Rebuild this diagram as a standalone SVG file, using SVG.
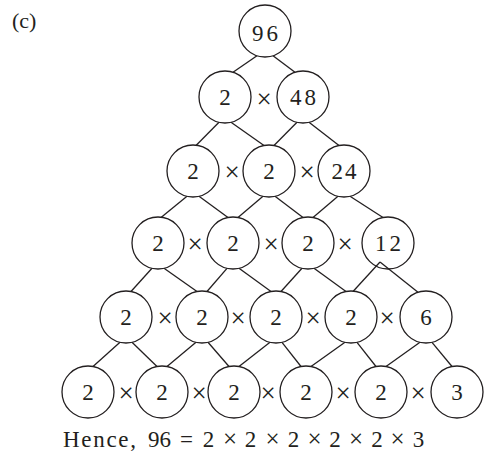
<svg xmlns="http://www.w3.org/2000/svg" width="486" height="460" viewBox="0 0 486 460">
<style>
.n circle{fill:#fff;stroke:#231f20;stroke-width:1.3}
.n text,.t{font-family:"Liberation Serif","Times New Roman",serif;fill:#231f20;text-anchor:middle}
.n text{font-size:23px}
.x{font-family:"Liberation Serif","Times New Roman",serif;fill:#231f20;text-anchor:middle;font-size:27px}
#edges line{stroke:#231f20;stroke-width:1.3}
</style>
<rect width="486" height="460" fill="#fff"/>
<text x="12" y="28" class="t" style="text-anchor:start;font-size:22px">(c)</text>
<g id="edges">
<line x1="257" y1="55.7" x2="233" y2="72.3"/><line x1="273" y1="55.7" x2="295" y2="72.3"/>
<line x1="219" y1="122.3" x2="196" y2="145.5"/><line x1="231" y1="122.3" x2="264" y2="145.5"/>
<line x1="297" y1="122.3" x2="274" y2="145.5"/><line x1="309" y1="122.3" x2="339" y2="145.5"/>
<line x1="187" y1="196.3" x2="161" y2="217.5"/><line x1="199" y1="196.3" x2="228" y2="217.5"/>
<line x1="263" y1="196.3" x2="238" y2="217.5"/><line x1="275" y1="196.3" x2="303" y2="217.5"/>
<line x1="338" y1="196.3" x2="313" y2="217.5"/><line x1="350" y1="196.3" x2="383" y2="217.5"/>
<line x1="152" y1="268.3" x2="131" y2="291.5"/><line x1="164" y1="268.3" x2="197" y2="291.5"/>
<line x1="227" y1="268.3" x2="207" y2="291.5"/><line x1="239" y1="268.3" x2="271" y2="291.5"/>
<line x1="302" y1="268.3" x2="281" y2="291.5"/><line x1="314" y1="268.3" x2="346" y2="291.5"/>
<line x1="380" y1="262" x2="353" y2="291.5"/><line x1="380" y1="262" x2="418" y2="292.3"/>
<line x1="120" y1="342.3" x2="93" y2="366.5"/><line x1="132" y1="342.3" x2="157" y2="366.5"/>
<line x1="196" y1="342.3" x2="167" y2="366.5"/><line x1="208" y1="342.3" x2="229" y2="366.5"/>
<line x1="270" y1="342.3" x2="239" y2="366.5"/><line x1="282" y1="342.3" x2="301" y2="366.5"/>
<line x1="345" y1="342.3" x2="311" y2="366.5"/><line x1="357" y1="342.3" x2="376" y2="366.5"/>
<line x1="420" y1="342.3" x2="386" y2="366.5"/><line x1="432" y1="342.3" x2="452" y2="366.5"/>
</g>
<g id="n96" class="n"><circle cx="265" cy="31" r="26"/><text x="265" y="41" textLength="26" lengthAdjust="spacing">96</text></g>
<g id="r2a" class="n"><circle cx="225" cy="97" r="26"/><text x="225" y="105">2</text></g>
<g id="r2b" class="n"><circle cx="303" cy="97" r="26"/><text x="303" y="105" textLength="26" lengthAdjust="spacing">48</text></g>
<g id="r3a" class="n"><circle cx="193" cy="171" r="26"/><text x="193" y="179">2</text></g>
<g id="r3b" class="n"><circle cx="269" cy="171" r="26"/><text x="269" y="179">2</text></g>
<g id="r3c" class="n"><circle cx="344" cy="171" r="26"/><text x="344" y="179" textLength="25" lengthAdjust="spacing">24</text></g>
<g id="r4a" class="n"><circle cx="158" cy="243" r="26"/><text x="158" y="251">2</text></g>
<g id="r4b" class="n"><circle cx="233" cy="243" r="26"/><text x="233" y="251">2</text></g>
<g id="r4c" class="n"><circle cx="308" cy="243" r="26"/><text x="308" y="251">2</text></g>
<g id="r4d" class="n"><circle cx="388" cy="243" r="26" style="fill:none"/><text x="388" y="251" textLength="26" lengthAdjust="spacing">12</text></g>
<g id="r5a" class="n"><circle cx="126" cy="317" r="26"/><text x="126" y="325">2</text></g>
<g id="r5b" class="n"><circle cx="202" cy="317" r="26"/><text x="202" y="325">2</text></g>
<g id="r5c" class="n"><circle cx="276" cy="317" r="26"/><text x="276" y="325">2</text></g>
<g id="r5d" class="n"><circle cx="351" cy="317" r="26"/><text x="351" y="325">2</text></g>
<g id="r5e" class="n"><circle cx="426" cy="317" r="26"/><text x="426" y="325">6</text></g>
<g id="r6a" class="n"><circle cx="88" cy="392" r="26"/><text x="88" y="400">2</text></g>
<g id="r6b" class="n"><circle cx="162" cy="392" r="26"/><text x="162" y="400">2</text></g>
<g id="r6c" class="n"><circle cx="234" cy="392" r="26"/><text x="234" y="400">2</text></g>
<g id="r6d" class="n"><circle cx="306" cy="392" r="26"/><text x="306" y="400">2</text></g>
<g id="r6e" class="n"><circle cx="381" cy="392" r="26"/><text x="381" y="400">2</text></g>
<g id="r6f" class="n"><circle cx="457" cy="392" r="26"/><text x="457" y="400">3</text></g>
<g id="times">
<text class="x" x="264" y="108">×</text>
<text class="x" x="232" y="181">×</text><text class="x" x="307" y="181">×</text>
<text class="x" x="195" y="253">×</text><text class="x" x="271" y="253">×</text><text class="x" x="345" y="253">×</text>
<text class="x" x="165" y="327">×</text><text class="x" x="238" y="327">×</text><text class="x" x="313" y="327">×</text><text class="x" x="387" y="327">×</text>
<text class="x" x="126" y="402">×</text><text class="x" x="199" y="402">×</text><text class="x" x="268" y="402">×</text><text class="x" x="343" y="402">×</text><text class="x" x="418" y="402">×</text>
</g>
<g id="caption" class="t" style="font-size:23px">
<text x="63" y="447" style="text-anchor:start" textLength="73" lengthAdjust="spacing">Hence,</text>
<text x="159.5" y="447">96</text><text x="186.5" y="447">=</text>
<text x="208.5" y="447">2</text><text x="230" y="447" style="font-size:25px">×</text>
<text x="250.5" y="447">2</text><text x="272.5" y="447" style="font-size:25px">×</text>
<text x="293.5" y="447">2</text><text x="314.5" y="447" style="font-size:25px">×</text>
<text x="335" y="447">2</text><text x="356" y="447" style="font-size:25px">×</text>
<text x="377" y="447">2</text><text x="397.5" y="447" style="font-size:25px">×</text>
<text x="418.5" y="447">3</text>
</g>
</svg>
